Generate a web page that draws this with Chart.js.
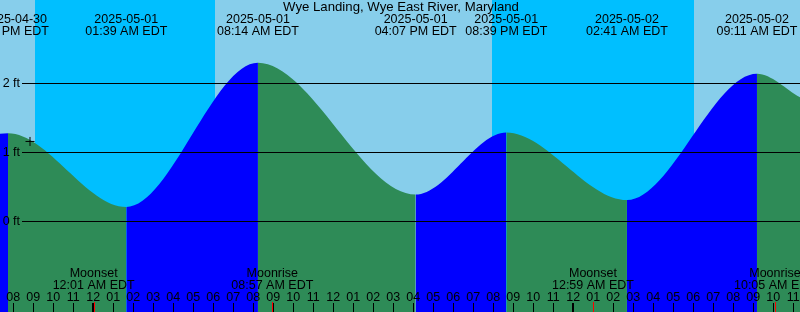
<!DOCTYPE html>
<html>
<head>
<meta charset="utf-8">
<script src="https://cdn.jsdelivr.net/npm/chart.js@4"></script>
<style>
  html, body { margin: 0; padding: 0; background: #87CEEB; }
  canvas { display: block; }
</style>
</head>
<body>
<canvas id="tideChart" width="800" height="312"></canvas>
<script>
// All times are hours counted from 2025-05-01 00:00 EDT
const viewStart = -4.665;
const viewEnd = 35.335;

// tide curve: the visible edges plus every high / low
const tideHours   = [-4.665, -4.265, 1.65, 8.233, 16.117, 20.65, 26.683, 33.183, 35.335];
const tideHeights = [1.27, 1.28, 0.21, 2.30, 0.39, 1.29, 0.31, 2.14, 1.80];

// labelled high / low tides along the top
const eventHours = [-4.265, 1.65, 8.233, 16.117, 20.65, 26.683, 33.183];
const eventDates = ['2025-04-30', '2025-05-01', '2025-05-01', '2025-05-01', '2025-05-01', '2025-05-02', '2025-05-02'];
const eventTimes = ['07:44 PM EDT', '01:39 AM EDT', '08:14 AM EDT', '04:07 PM EDT', '08:39 PM EDT', '02:41 AM EDT', '09:11 AM EDT'];

// night = sunset .. sunrise
const sunsetHours  = [-2.915, 19.935];
const sunriseHours = [6.085, 30.035];

// moon rise / set
const moonHours = [0.017, 8.95, 24.983, 34.083];
const moonNames = ['Moonset', 'Moonrise', 'Moonset', 'Moonrise'];
const moonTimes = ['12:01 AM EDT', '08:57 AM EDT', '12:59 AM EDT', '10:05 AM EDT'];

// level lines
const levelTicks = [0, 1, 2];

// current time marker
const nowHour = -3.165;
const nowHeight = 1.16;

const TITLE = 'Wye Landing, Wye East River, Maryland';
const FONT = '12.5px "Liberation Sans", Arial, sans-serif';
const TITLE_FONT = '13.2px "Liberation Sans", Arial, sans-serif';

const DAY = '#87CEEB';
const NIGHT = '#00BFFF';
const FLOOD = '#0000FF';
const EBB = '#2E8B57';

const tidePoints = tideHours.map((h, i) => ({ x: h, y: tideHeights[i] }));

// sky: day colour everywhere, night bands on top
const skyPlugin = {
    id: 'sky',
    beforeDatasetsDraw(chart) {
        const { ctx, chartArea: a, scales: { x } } = chart;
        ctx.save();
        ctx.fillStyle = DAY;
        ctx.fillRect(a.left, a.top, a.right - a.left, a.bottom - a.top);
        ctx.fillStyle = NIGHT;
        sunsetHours.forEach((s, i) => {
            const x0 = Math.round(x.getPixelForValue(s));
            const x1 = Math.round(x.getPixelForValue(sunriseHours[i]));
            ctx.fillRect(x0, a.top, x1 - x0, a.bottom - a.top);
        });
        ctx.restore();
    }
};

function hourLabel(h) {
    const h24 = ((h % 24) + 24) % 24;
    const h12 = h24 % 12 || 12;
    return String(h12).padStart(2, '0');
}

// everything drawn over the tide: level lines, labels, hour ticks
const overlayPlugin = {
    id: 'overlay',
    afterDatasetsDraw(chart) {
        const { ctx, chartArea: a, scales: { x, y } } = chart;
        ctx.save();
        ctx.font = FONT;
        ctx.fillStyle = '#000';
        ctx.textBaseline = 'middle';

        // level lines + "n ft"
        levelTicks.forEach(v => {
            const py = Math.floor(y.getPixelForValue(v));
            ctx.fillRect(22, py, a.right - 22, 1);
            ctx.textAlign = 'right';
            ctx.fillText(v + ' ft', 20, py + 0.5);
        });

        // title
        ctx.textAlign = 'center';
        ctx.font = TITLE_FONT;
        ctx.fillText(TITLE, 401, 7.5);
        ctx.font = FONT;

        // high / low labels
        eventHours.forEach((h, i) => {
            const px = x.getPixelForValue(h);
            // the first (clipped) date sits a little to the right in the original
            const dateShift = i === 0 ? 7 : 0;
            ctx.fillText(eventDates[i], px + dateShift, 19.5);
            ctx.fillText(eventTimes[i], px, 31.5);
        });

        // moon labels
        moonHours.forEach((h, i) => {
            const px = x.getPixelForValue(h);
            ctx.fillText(moonNames[i], px, 273.5);
            ctx.fillText(moonTimes[i], px, 285.5);
        });

        // hour labels and ticks
        for (let h = Math.ceil(viewStart); h <= Math.floor(viewEnd); h++) {
            const px = x.getPixelForValue(h);
            ctx.fillText(hourLabel(h), px, 297.5);
            if (((h % 24) + 24) % 24 === 0) {
                ctx.fillRect(Math.floor(px) - 1, 303, 2, a.bottom - 303);
            } else {
                ctx.fillRect(Math.floor(px), 303, 1, a.bottom - 303);
            }
        }

        // moon event ticks
        ctx.fillStyle = '#FF0000';
        moonHours.forEach(h => {
            const px = Math.round(x.getPixelForValue(h));
            ctx.fillRect(px, 302, 1, a.bottom - 302);
        });
        ctx.restore();
    }
};

new Chart(document.getElementById('tideChart').getContext('2d'), {
    type: 'line',
    data: {
        datasets: [
            {
                type: 'scatter',
                data: [{ x: nowHour, y: nowHeight }],
                pointStyle: 'cross',
                pointRadius: 4.5,
                borderColor: '#000',
                borderWidth: 1,
                order: 0
            },
            {
                data: tidePoints,
                fill: 'start',
                borderWidth: 0,
                pointRadius: 0,
                cubicInterpolationMode: 'monotone',
                backgroundColor: EBB,
                segment: {
                    backgroundColor: c => c.p1.parsed.y > c.p0.parsed.y ? FLOOD : EBB
                },
                order: 1
            }
        ]
    },
    options: {
        responsive: false,
        animation: false,
        events: [],
        layout: { padding: 0, autoPadding: false },
        plugins: {
            legend: { display: false },
            tooltip: { enabled: false }
        },
        scales: {
            x: { type: 'linear', min: viewStart, max: viewEnd, display: false },
            y: { type: 'linear', min: -90.5 / 69, max: 221.5 / 69, display: false }
        }
    },
    plugins: [skyPlugin, overlayPlugin]
});
</script>
</body>
</html>
